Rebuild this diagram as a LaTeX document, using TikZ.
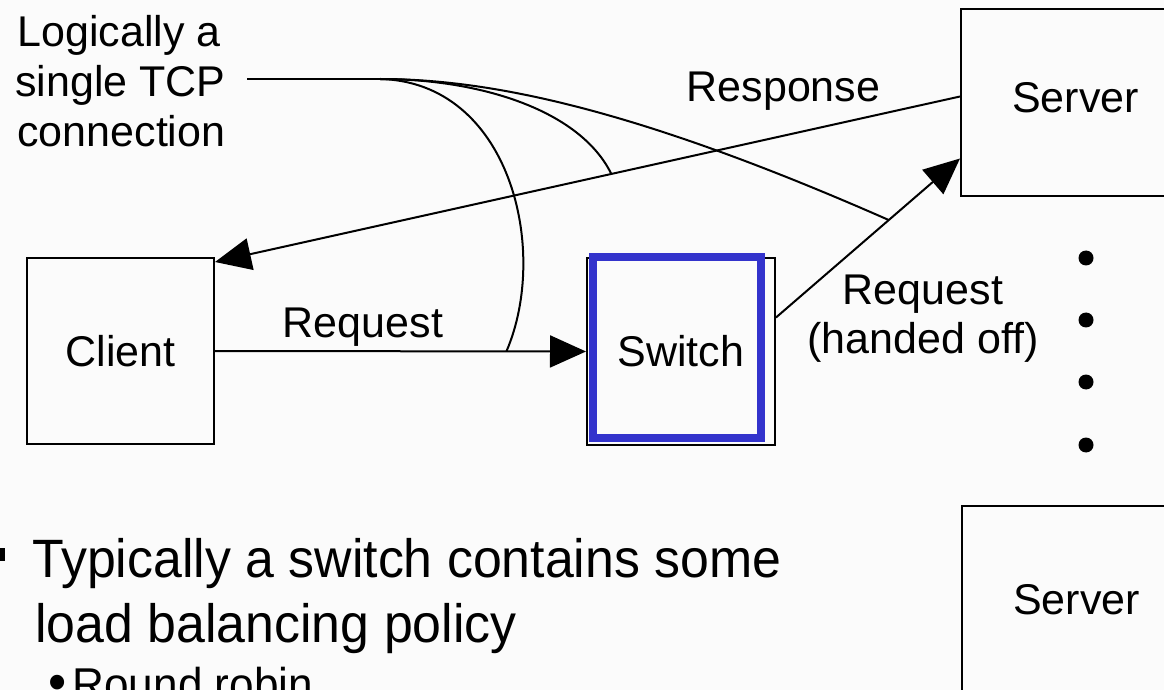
\documentclass[tikz,border=0pt]{standalone}
\usepackage{fontspec}
\setmainfont{Liberation Sans}
\newfontfamily\slidefont[FakeStretch=0.96]{Liberation Sans}
\usetikzlibrary{arrows.meta}
\definecolor{pagebg}{RGB}{251,251,251}
\definecolor{markblue}{RGB}{51,51,204}
\begin{document}
\begin{tikzpicture}[x=0.5pt,y=-0.5pt,
  diag/.style={font=\fontsize{21.5pt}{25pt}\selectfont, inner sep=0pt},
  box/.style={draw, line width=1pt, rectangle, diag},
  conn/.style={line width=1pt},
  arr/.style={conn, -{Triangle[length=18pt,width=16pt]}},
  dotmark/.style={circle, fill=black, inner sep=0pt, minimum size=7.5pt},
  slide/.style={font=\slidefont\fontsize{27pt}{32pt}\selectfont, inner sep=0pt},
  subslide/.style={font=\slidefont\fontsize{23pt}{28pt}\selectfont, inner sep=0pt}]
\fill[pagebg] (0,0) rectangle (1164,690);
\useasboundingbox (0,0) rectangle (1164,690);
\clip (0,0) rectangle (1164,690);

% boxes
\node[box, minimum width=93.5pt, minimum height=93pt] (client) at (120.5,351) {Client};
\node[box, minimum width=94pt, minimum height=93.5pt] (switch) at (681,351.5) {Switch};
\node[draw=markblue, line width=4pt, minimum width=83.75pt, minimum height=90.5pt, inner sep=0pt] (swmark) at (676.75,347.5) {};
\node[box, minimum width=114.5pt, minimum height=93.5pt, text depth=5.5pt] (server) at (1075.5,102.5) {Server};
\node[box, minimum width=114.5pt, minimum height=93.5pt] (server2) at (1076.5,599.5) {Server};

% ellipsis between the servers
\node[dotmark] (dot1) at (1086,258) {};
\node[dotmark] (dot2) at (1086,320) {};
\node[dotmark] (dot3) at (1086,382) {};
\node[dotmark] (dot4) at (1086,445) {};

% labels
\node[diag, anchor=base west] (tcp1) at (17,47) {Logically a};
\node[diag, anchor=base west] (tcp2) at (15,97) {single TCP};
\node[diag, anchor=base west] (tcp3) at (17,147) {connection};
\node[diag, anchor=base] (lreq) at (363,337) {Request};
\node[diag, anchor=base] (lresp) at (783.5,102) {Response};
\node[diag, anchor=base] (lho1) at (923,305) {Request};
\node[diag, anchor=base] (lho2) at (923,354) {(handed off)};

% messages
\draw[arr] (client.east) -- coordinate[pos=0.7855] (c1end) (switch.west);
\draw[arr] ([yshift=3pt]server.west) -- coordinate[pos=0.468] (c2end) ([yshift=-2.5pt]client.north east);
\draw[arr] ([yshift=17pt]switch.east) -- coordinate[pos=0.613] (c3end) ([yshift=-28pt]server.west);

% one logical connection fanning out to the three segments
\coordinate (tcpstart) at (247,79);
\coordinate (fan) at (380,79);
\draw[conn] (tcpstart) -- (fan);
\draw[conn] (fan) .. controls (510,82) and (550,250) .. (c1end);
\draw[conn] (fan) .. controls (480,79) and (580,110) .. (c2end);
\draw[conn] (fan) .. controls (500,79) and (650,115) .. (c3end);

% slide text
\fill (-7,548) rectangle (5,561);
\node[slide, anchor=base west] (t1) at (32,577) {Typically a switch contains some};
\node[slide, anchor=base west] (t2) at (35,642) {load balancing policy};
\node[subslide, anchor=base west] (t3) at (48,700) {{\fontsize{27pt}{28pt}\selectfont •}\kern3pt Round robin};
\end{tikzpicture}
\end{document}
